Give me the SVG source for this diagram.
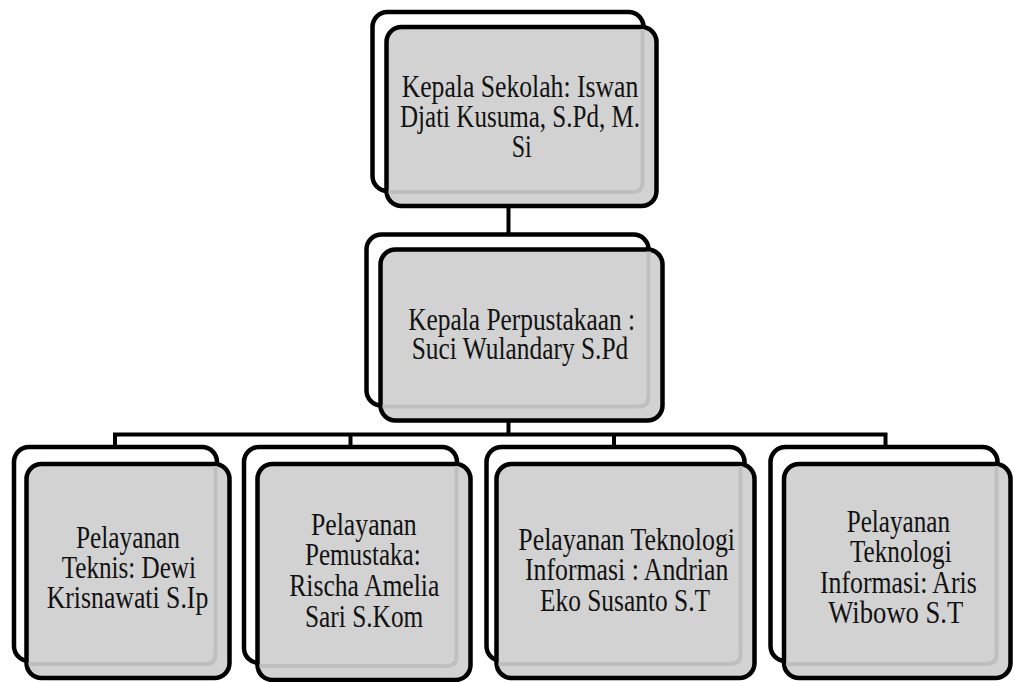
<svg xmlns="http://www.w3.org/2000/svg" width="1015" height="682" viewBox="0 0 1015 682">
<style>
.back{fill:#ffffff;stroke:#000;stroke-width:4.5}
.front{fill:#d2d2d2;stroke:#000;stroke-width:4.5}
.band{fill:none;stroke:#bfbfbf;stroke-width:4}
.conn{fill:none;stroke:#000;stroke-width:4}
text{font-family:"Liberation Serif","Times New Roman",serif;font-size:31px;fill:#111}
</style>
<rect width="1015" height="682" fill="#fff"/>
<g id="connectors">
<path class="conn" d="M508.5,205 V236"/>
<path class="conn" d="M508.5,420 V434.5"/>
<path class="conn" d="M115,448 V434.5 H885.5 V448"/>
<path class="conn" d="M350.5,434.5 V448"/>
<path class="conn" d="M614,434.5 V448"/>
</g>
<g id="node-kepsek">
<rect class="back" x="372.5" y="12" width="271" height="179" rx="15"/>
<rect class="front" x="386.5" y="27" width="270" height="179" rx="15"/>
<path class="band" d="M642.5,29 V182 Q642.5,192 632.5,192 H388.5"/>
<text x="401.7" y="97" textLength="236.6" lengthAdjust="spacingAndGlyphs">Kepala Sekolah: Iswan</text>
<text x="400" y="127" textLength="240" lengthAdjust="spacingAndGlyphs">Djati Kusuma, S.Pd, M.</text>
<text x="511.7" y="157" textLength="20" lengthAdjust="spacingAndGlyphs">Si</text>
</g>
<g id="node-kaperpus">
<rect class="back" x="366.5" y="234.5" width="282" height="171" rx="15"/>
<rect class="front" x="380.5" y="249.5" width="282" height="171" rx="15"/>
<path class="band" d="M648.5,251.5 V396.5 Q648.5,406.5 638.5,406.5 H382.5"/>
<text x="408.3" y="330" textLength="226.7" lengthAdjust="spacingAndGlyphs">Kepala Perpustakaan :</text>
<text x="411.7" y="359" textLength="216.6" lengthAdjust="spacingAndGlyphs">Suci Wulandary S.Pd</text>
</g>
<g id="node-teknis">
<rect class="back" x="14" y="447" width="203" height="214" rx="15"/>
<rect class="front" x="26.5" y="464" width="203" height="214" rx="15"/>
<path class="band" d="M215.5,466 V654 Q215.5,664 205.5,664 H28.5"/>
<text x="76" y="548" textLength="104" lengthAdjust="spacingAndGlyphs">Pelayanan</text>
<text x="61.7" y="578" textLength="134.3" lengthAdjust="spacingAndGlyphs">Teknis: Dewi</text>
<text x="46.7" y="608" textLength="161.6" lengthAdjust="spacingAndGlyphs">Krisnawati S.Ip</text>
</g>
<g id="node-pemustaka">
<rect class="back" x="244" y="447" width="213" height="216" rx="15"/>
<rect class="front" x="257.5" y="464" width="213" height="216" rx="15"/>
<path class="band" d="M456.5,466 V656 Q456.5,666 446.5,666 H259.5"/>
<text x="311" y="535" textLength="105.7" lengthAdjust="spacingAndGlyphs">Pelayanan</text>
<text x="305" y="565" textLength="115.7" lengthAdjust="spacingAndGlyphs">Pemustaka:</text>
<text x="289.3" y="596" textLength="150" lengthAdjust="spacingAndGlyphs">Rischa Amelia</text>
<text x="305" y="627" textLength="118.3" lengthAdjust="spacingAndGlyphs">Sari S.Kom</text>
</g>
<g id="node-ti-andrian">
<rect class="back" x="486.5" y="447" width="258" height="214" rx="15"/>
<rect class="front" x="496.5" y="464" width="258" height="214" rx="15"/>
<path class="band" d="M740.5,466 V654 Q740.5,664 730.5,664 H498.5"/>
<text x="518.3" y="550" textLength="216.7" lengthAdjust="spacingAndGlyphs">Pelayanan Teknologi</text>
<text x="525" y="580" textLength="203.3" lengthAdjust="spacingAndGlyphs">Informasi : Andrian</text>
<text x="540" y="611" textLength="170" lengthAdjust="spacingAndGlyphs">Eko Susanto S.T</text>
</g>
<g id="node-ti-aris">
<rect class="back" x="770.5" y="447" width="227" height="214" rx="15"/>
<rect class="front" x="784" y="464" width="226.5" height="214" rx="15"/>
<path class="band" d="M996.5,466 V654 Q996.5,664 986.5,664 H786"/>
<text x="846.7" y="532" textLength="103.3" lengthAdjust="spacingAndGlyphs">Pelayanan</text>
<text x="850" y="562" textLength="101.7" lengthAdjust="spacingAndGlyphs">Teknologi</text>
<text x="820" y="593" textLength="156.7" lengthAdjust="spacingAndGlyphs">Informasi: Aris</text>
<text x="828.3" y="623" textLength="135" lengthAdjust="spacingAndGlyphs">Wibowo S.T</text>
</g>
</svg>
